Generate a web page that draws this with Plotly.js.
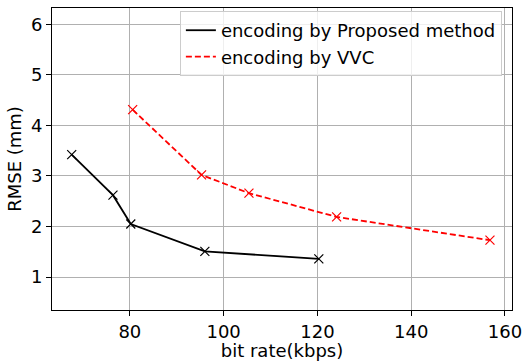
<!DOCTYPE html>
<html><head><meta charset="utf-8">
<script src="https://cdn.plot.ly/plotly-3.0.1.min.js"></script>
<style>html,body{margin:0;padding:0;background:#fff}#plot{width:523px;height:361px}</style>
</head><body><div id="plot"></div>
<script>
const proposedX = [67.6, 76.4, 80.2, 96.0, 120.3];
const proposedY = [3.42, 2.62, 2.05, 1.51, 1.36];
const vvcX = [80.6, 95.3, 105.4, 124.1, 156.8];
const vvcY = [4.31, 3.02, 2.66, 2.19, 1.73];
const seriesNames = ["encoding by Proposed method", "encoding by VVC"];
const xTicks = [80, 100, 120, 140, 160];
const yTicks = [1, 2, 3, 4, 5, 6];

const font = {family: "DejaVu Sans", size: 18, color: "#000"};
const blackLine = {color: "#000", width: 1.8};
const redLine = {color: "#ff0000", width: 1.8, dash: "6px,3px"};
const traces = [
  {x: proposedX, y: proposedY, name: seriesNames[0], mode: "lines+markers", showlegend: false,
   line: blackLine,
   marker: {symbol: "x-thin-open", size: 9, color: "#000", line: {width: 1.2, color: "#000"}}},
  {x: vvcX, y: vvcY, name: seriesNames[1], mode: "lines+markers", showlegend: false,
   line: redLine,
   marker: {symbol: "x-thin-open", size: 9, color: "#ff0000", line: {width: 1.2, color: "#ff0000"}}},
  {x: [null], y: [null], name: seriesNames[0], mode: "lines", line: blackLine, showlegend: true},
  {x: [null], y: [null], name: seriesNames[1], mode: "lines", line: redLine, showlegend: true}
];
const axisCommon = {showline: true, linecolor: "#000", linewidth: 1, mirror: true,
  ticks: "outside", ticklen: 5, tickcolor: "#000", showgrid: true, gridcolor: "#b0b0b0",
  gridwidth: 1, zeroline: false, tickfont: font};
const layout = {
  width: 523, height: 361,
  margin: {l: 52, r: 11, t: 8, b: 51},
  paper_bgcolor: "#fff", plot_bgcolor: "#fff",
  font: font,
  showlegend: true,
  legend: {x: 0.978, y: 0.99, xanchor: "right", yanchor: "top", bgcolor: "rgba(255,255,255,0.8)",
    bordercolor: "#cccccc", borderwidth: 1, font: font, tracegroupgap: 0},
  xaxis: Object.assign({}, axisCommon, {range: [63.4, 161.5], tickvals: xTicks,
    title: {text: "bit rate(kbps)", font: font, standoff: 1}}),
  yaxis: Object.assign({}, axisCommon, {range: [0.35, 6.32], tickvals: yTicks,
    title: {text: "RMSE (mm)", font: font, standoff: 4}})
};
Plotly.newPlot("plot", traces, layout, {displayModeBar: false, staticPlot: true});
</script></body></html>
